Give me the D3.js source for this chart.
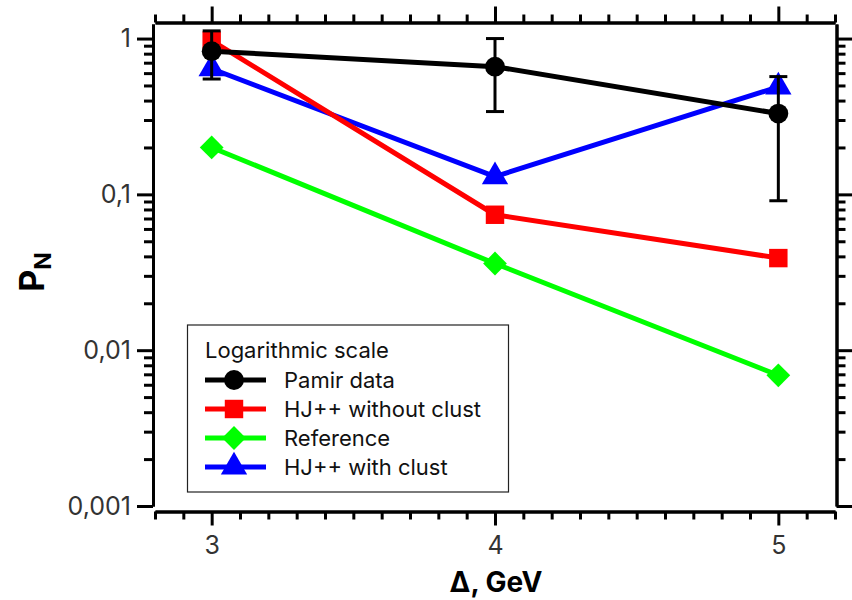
<!DOCTYPE html>
<html>
<head>
<meta charset="utf-8">
<script src="https://cdn.jsdelivr.net/npm/d3@7"></script>
<style>
  body { margin: 0; background: #fff; }
  text { font-family: Inter, "Noto Sans", sans-serif; }
</style>
</head>
<body>
<div id="chart"></div>
<script>
// P_N vs energy threshold, log scale

const deltas = [3, 4, 5];
const pamir = [0.83, 0.66, 0.33];
const pamirLow = [0.55, 0.34, 0.091];
const pamirHigh = [1.12, 1.0, 0.57];
const hjNoClust = [0.97, 0.074, 0.039];
const reference = [0.20, 0.036, 0.0069];
const hjClust = [0.64, 0.13, 0.49];

const yMajor = [1, 0.1, 0.01, 0.001];
const yLabels = ["1", "0,1", "0,01", "0,001"];
const xMajor = [3, 4, 5];

const width = 852, height = 600;

const svg = d3.select("#chart")
    .append("svg")
    .attr("width", width)
    .attr("height", height);

const x = d3.scaleLinear().domain([2.8, 5.2]).range([155, 835]);
const y = d3.scaleLog().domain([0.001, 1.24]).range([506, 24]);

// minor ticks
const yMinor = [];
[0.001, 0.01, 0.1, 1].forEach(dec => {
    for (let k = 2; k <= 9; k++) {
        const v = dec * k;
        if (v <= 1.24) yMinor.push(v);
    }
});
const xMinor = d3.range(28, 53).map(v => v / 10).filter(v => !xMajor.includes(v));

function styleAxis(g) {
    g.select(".domain").attr("stroke", "#000").attr("stroke-width", 3);
    g.selectAll(".tick line").attr("stroke", "#000").attr("stroke-width", 3);
    g.selectAll(".tick text")
        .attr("fill", "#333")
        .style("font-size", "25px")
        .style("font-family", "Inter, sans-serif");
}

// left axis
const leftG = svg.append("g").attr("transform", "translate(153,0)");
leftG.append("g")
    .call(d3.axisLeft(y).tickValues(yMinor).tickSize(9).tickSizeOuter(0).tickFormat(""))
    .call(styleAxis);
leftG.append("g")
    .call(d3.axisLeft(y).tickValues(yMajor).tickSize(16).tickSizeOuter(0)
        .tickPadding(6).tickFormat((d, i) => yLabels[i]))
    .call(styleAxis);

// right axis
const rightG = svg.append("g").attr("transform", "translate(836.5,0)");
rightG.append("g")
    .call(d3.axisRight(y).tickValues(yMinor).tickSize(9).tickSizeOuter(0).tickFormat(""))
    .call(styleAxis);
rightG.append("g")
    .call(d3.axisRight(y).tickValues(yMajor).tickSize(16).tickSizeOuter(0).tickFormat(""))
    .call(styleAxis);

// top axis
const topG = svg.append("g").attr("transform", "translate(0,22.5)");
topG.append("g")
    .call(d3.axisTop(x).tickValues(xMinor).tickSize(8).tickSizeOuter(0).tickFormat(""))
    .call(styleAxis);
topG.append("g")
    .call(d3.axisTop(x).tickValues(xMajor).tickSize(16).tickSizeOuter(0).tickFormat(""))
    .call(styleAxis);

// bottom axis
const botG = svg.append("g").attr("transform", "translate(0,511.5)");
botG.append("g")
    .call(d3.axisBottom(x).tickValues(xMinor).tickSize(8).tickSizeOuter(0).tickFormat(""))
    .call(styleAxis);
botG.append("g")
    .call(d3.axisBottom(x).tickValues(xMajor).tickSize(14).tickSizeOuter(0)
        .tickPadding(11).tickFormat(d3.format("d")))
    .call(styleAxis);

// axis titles
svg.append("text")
    .attr("x", 496).attr("y", 592)
    .attr("text-anchor", "middle")
    .style("font-size", "28px").style("font-weight", "bold")
    .text("Δ, GeV");

const yTitle = svg.append("text")
    .attr("transform", "translate(44,272) rotate(-90)")
    .attr("text-anchor", "middle")
    .style("font-size", "34px").style("font-weight", "bold");
yTitle.append("tspan").text("P");
yTitle.append("tspan").attr("dy", 7).style("font-size", "23px").text("N");

// series
const series = [
    { name: "HJ++ with clust", values: hjClust, color: "#0000ff", shape: d3.symbolTriangle, size: 300 },
    { name: "Reference", values: reference, color: "#00ff00", shape: d3.symbolDiamond2, size: 360 },
    { name: "HJ++ without clust", values: hjNoClust, color: "#ff0000", shape: d3.symbolSquare, size: 340 },
    { name: "Pamir data", values: pamir, color: "#000000", shape: d3.symbolCircle, size: 310 }
];

const line = d3.line()
    .x((d, i) => x(deltas[i]))
    .y(d => y(d));

series.forEach(s => {
    svg.append("path")
        .datum(s.values)
        .attr("d", line)
        .attr("fill", "none")
        .attr("stroke", s.color)
        .attr("stroke-width", 5);

    if (s.name === "Pamir data") {
        const eb = svg.append("g");
        deltas.forEach((dx, i) => {
            const cx = x(dx);
            eb.append("line")
                .attr("x1", cx).attr("x2", cx)
                .attr("y1", y(pamirLow[i])).attr("y2", y(pamirHigh[i]))
                .attr("stroke", "#000").attr("stroke-width", 3);
            [pamirLow[i], pamirHigh[i]].forEach(v => {
                eb.append("line")
                    .attr("x1", cx - 9).attr("x2", cx + 9)
                    .attr("y1", y(v)).attr("y2", y(v))
                    .attr("stroke", "#000").attr("stroke-width", 3);
            });
        });
    }

    svg.selectAll(null)
        .data(s.values)
        .enter()
        .append("path")
        .attr("d", d3.symbol().type(s.shape).size(s.size))
        .attr("transform", (d, i) => `translate(${x(deltas[i])},${y(d)})`)
        .attr("fill", s.color);
});

// legend
const legend = svg.append("g");
legend.append("rect")
    .attr("x", 187.5).attr("y", 325)
    .attr("width", 321).attr("height", 167)
    .attr("fill", "#fff")
    .attr("stroke", "#222")
    .attr("stroke-width", 1.2);
legend.append("text")
    .attr("x", 205).attr("y", 358)
    .style("font-size", "22px")
    .attr("fill", "#111")
    .text("Logarithmic scale");

const legendOrder = ["Pamir data", "HJ++ without clust", "Reference", "HJ++ with clust"];
legendOrder.forEach((name, i) => {
    const s = series.find(d => d.name === name);
    const ly = 380 + i * 29;
    legend.append("line")
        .attr("x1", 205).attr("x2", 266)
        .attr("y1", ly).attr("y2", ly)
        .attr("stroke", s.color).attr("stroke-width", 5);
    legend.append("path")
        .attr("d", d3.symbol().type(s.shape).size(s.size))
        .attr("transform", `translate(234,${ly})`)
        .attr("fill", s.color);
    legend.append("text")
        .attr("x", 284).attr("y", ly + 8)
        .style("font-size", "22px")
        .attr("fill", "#111")
        .text(name);
});
</script>
</body>
</html>
